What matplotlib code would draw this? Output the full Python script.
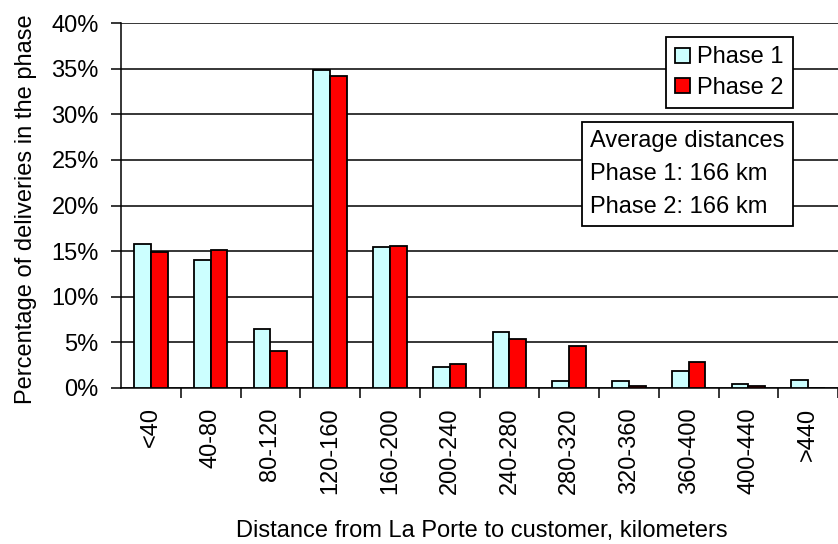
import numpy as np
import matplotlib
matplotlib.use('Agg')
import matplotlib.pyplot as plt
from matplotlib.ticker import FixedLocator, PercentFormatter

# ---- data ----
categories = ['<40', '40-80', '80-120', '120-160', '160-200', '200-240',
              '240-280', '280-320', '320-360', '360-400', '400-440', '>440']
phase1 = [15.8, 14.0, 6.5, 34.8, 15.4, 2.3, 6.1, 0.8, 0.8, 1.9, 0.4, 0.9]
phase2 = [14.9, 15.1, 4.1, 34.2, 15.6, 2.6, 5.4, 4.6, 0.2, 2.8, 0.2, 0.0]
y_ticks = [0, 5, 10, 15, 20, 25, 30, 35, 40]
avg_text = 'Average distances\nPhase 1: 166 km\nPhase 2: 166 km'

plt.rcParams['font.family'] = ['Liberation Sans', 'DejaVu Sans']
FS = 17

W, H = 838, 544
fig = plt.figure(figsize=(W/100, H/100), dpi=100)
ax = fig.add_axes([121/W, 1-388/H, (W-121)/W, (388-23)/H])

x = np.arange(len(categories))
bw = 0.28
ax.bar(x - bw/2, phase1, width=bw, color='#CCFFFF', edgecolor='black',
       linewidth=1.3, label='Phase 1', zorder=3)
ax.bar(x + bw/2, phase2, width=bw, color='#FF0000', edgecolor='black',
       linewidth=1.3, label='Phase 2', zorder=3)

ax.set_xlim(-0.5, -0.5 + (W-121)/60.3)
ax.set_ylim(0, 40)
ax.yaxis.set_major_locator(FixedLocator(y_ticks))
ax.yaxis.set_major_formatter(PercentFormatter(decimals=0))
ax.grid(axis='y', color='black', linewidth=1.1, zorder=0)
ax.set_axisbelow(True)

ax.set_xticks(x)
ax.set_xticklabels(categories, rotation=90, fontsize=FS)
ax.set_xticks(np.arange(len(categories)) + 0.5, minor=True)
ax.tick_params(axis='x', which='major', length=0, pad=14)
ax.tick_params(axis='x', which='minor', length=7, width=1.1, direction='out')
ax.tick_params(axis='y', length=7, width=1.1, labelsize=FS, pad=9)

for s in ['top', 'right']:
    ax.spines[s].set_visible(False)
for s in ['left', 'bottom']:
    ax.spines[s].set_linewidth(1.1)

fig.text(482/W, 1-531/H, 'Distance from La Porte to customer, kilometers',
         fontsize=FS, ha='center', va='center')
fig.text(26/W, 1-209/H, 'Percentage of deliveries in the phase', fontsize=FS,
         rotation=90, ha='center', va='center')

leg = fig.legend(loc='upper left', bbox_to_anchor=(666/W, 1-37/H), fontsize=FS,
                 frameon=True, fancybox=False, handlelength=0.6, handleheight=0.6,
                 handletextpad=0.3, borderpad=0.4, labelspacing=0.35,
                 borderaxespad=0)
leg.get_frame().set_edgecolor('black')
leg.get_frame().set_linewidth(1.3)
leg.get_frame().set_alpha(None)

fig.text(590/W, 1-130/H, avg_text, fontsize=FS, ha='left', va='top',
         linespacing=1.65,
         bbox=dict(boxstyle='square,pad=0.35', facecolor='white',
                   edgecolor='black', linewidth=1.3))

fig.savefig('out.png', dpi=100)
